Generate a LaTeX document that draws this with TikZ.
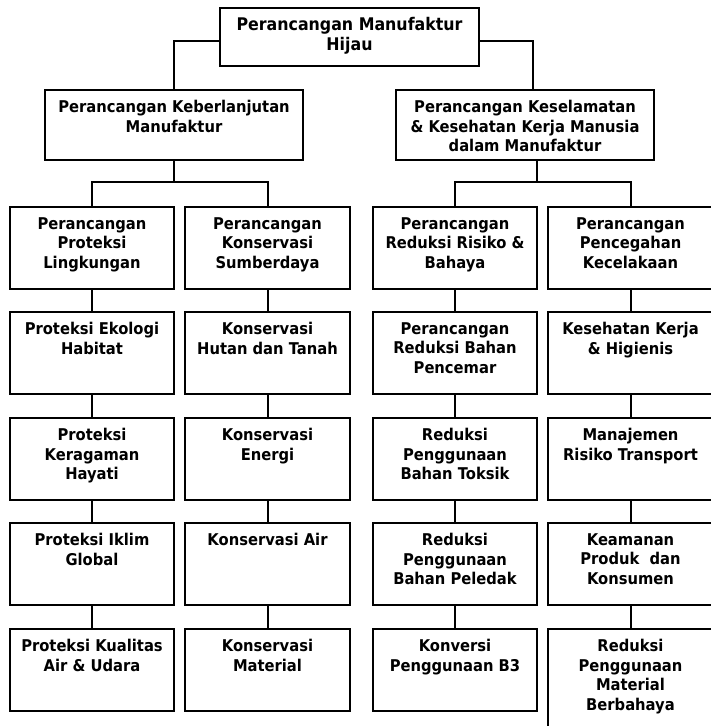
\documentclass[tikz,border=0pt]{standalone}
\usepackage{fontspec}
\setmainfont{DejaVu Sans}
\newfontfamily\boxfont{DejaVu Sans}[FakeStretch=0.91]
\newcommand\mybx[6]{%
  \node[box, minimum width={#4-#2}, minimum height={#5-#3}] (#1) at ({(#2+#4)/2},{(#3+#5)/2}) {};
  \node[lbl] (#1t) at ([yshift=-11pt]#1.north) {#6};}
\begin{document}
\begin{tikzpicture}[x=1pt,y=-1pt,
  box/.style={draw, line width=2pt, rectangle, inner sep=0pt, fill=white},
  lbl/.style={anchor=north, inner sep=0pt, align=center, font=\boxfont\bfseries\fontsize{16.2}{19.5}\selectfont},
  toplbl/.style={lbl, font=\boxfont\bfseries\fontsize{17.4}{20.5}\selectfont},
  conn/.style={line width=2pt}]
\useasboundingbox (0,0) rectangle (711,726);
\clip (0,0) rectangle (711,726);
\fill[white] (0,0) rectangle (711,726);

\coordinate (jT) at (0,41);
\coordinate (jRtop) at (533,90);
\coordinate (jRbot) at (537,183);

% top levels
\node[box, minimum width=259, minimum height=58] (T) at (349.5,37) {};
\node[toplbl] (Tt) at ([yshift=-10pt]T.north) {Perancangan Manufaktur\\Hijau};
\mybx{L}{45}{90}{303}{160}{Perancangan Keberlanjutan\\Manufaktur}
\mybx{R}{396}{90}{654}{160}{Perancangan Keselamatan\\\& Kesehatan Kerja Manusia\\dalam Manufaktur}

% column 1
\mybx{a1}{10}{207}{174}{289}{Perancangan\\Proteksi\\Lingkungan}
\mybx{a2}{10}{312}{174}{394}{Proteksi Ekologi\\Habitat}
\mybx{a3}{10}{418}{174}{500}{Proteksi\\Keragaman\\Hayati}
\mybx{a4}{10}{523}{174}{605}{Proteksi Iklim\\Global}
\mybx{a5}{10}{629}{174}{711}{Proteksi Kualitas\\Air \& Udara}
% column 2
\mybx{b1}{185}{207}{350}{289}{Perancangan\\Konservasi\\Sumberdaya}
\mybx{b2}{185}{312}{350}{394}{Konservasi\\Hutan dan Tanah}
\mybx{b3}{185}{418}{350}{500}{Konservasi\\Energi}
\mybx{b4}{185}{523}{350}{605}{Konservasi Air}
\mybx{b5}{185}{629}{350}{711}{Konservasi\\Material}
% column 3
\mybx{c1}{373}{207}{537}{289}{Perancangan\\Reduksi Risiko \&\\Bahaya}
\mybx{c2}{373}{312}{537}{394}{Perancangan\\Reduksi Bahan\\Pencemar}
\mybx{c3}{373}{418}{537}{500}{Reduksi\\Penggunaan\\Bahan Toksik}
\mybx{c4}{373}{523}{537}{605}{Reduksi\\Penggunaan\\Bahan Peledak}
\mybx{c5}{373}{629}{537}{711}{Konversi\\Penggunaan B3}
% column 4
\mybx{d1}{548}{207}{713}{289}{Perancangan\\Pencegahan\\Kecelakaan}
\mybx{d2}{548}{312}{713}{394}{Kesehatan Kerja\\\& Higienis}
\mybx{d3}{548}{418}{713}{500}{Manajemen\\Risiko Transport}
\mybx{d4}{548}{523}{713}{605}{Keamanan\\Produk~ dan\\Konsumen}
\mybx{d5}{548}{629}{713}{740}{Reduksi\\Penggunaan\\Material\\Berbahaya}

% connectors
\draw[conn] (T.west |- jT) -| (L.north);
\draw[conn] (T.east |- jT) -| (jRtop);
\draw[conn] (L.south) -- (L.south |- jRbot);
\draw[conn] (a1.north) -- ++(0,-24) -| (b1.north);
\draw[conn] (R.south -| jRbot) -- (jRbot);
\draw[conn] (c1.north) -- ++(0,-24) -| (d1.north);
\foreach \c in {a,b,c,d}{
  \draw[conn] (\c1.south) -- (\c2.north);
  \draw[conn] (\c2.south) -- (\c3.north);
  \draw[conn] (\c3.south) -- (\c4.north);
  \draw[conn] (\c4.south) -- (\c5.north);
}
\end{tikzpicture}
\end{document}
